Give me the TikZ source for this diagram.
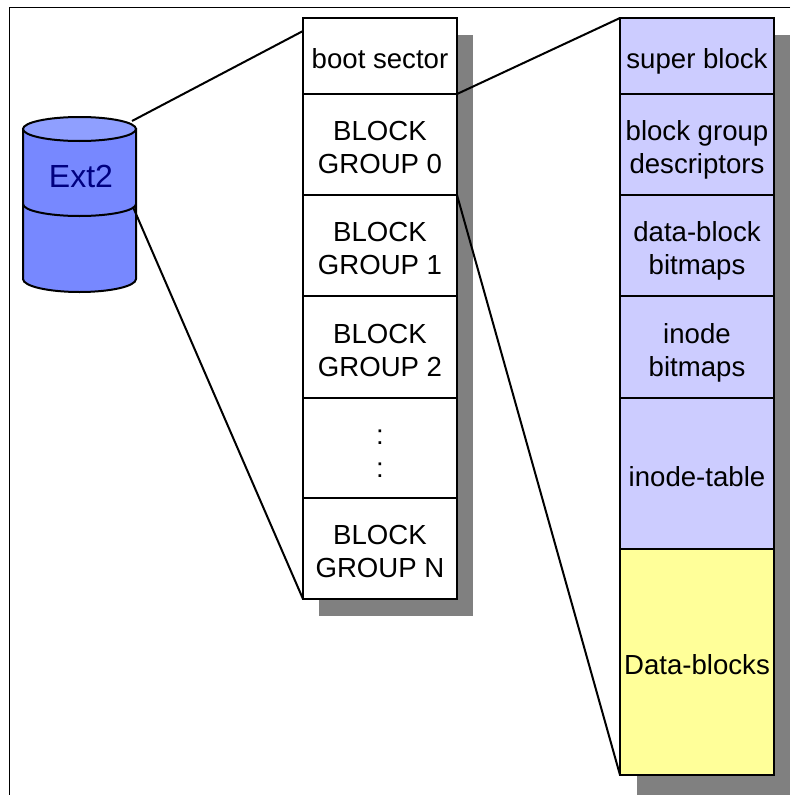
\documentclass[tikz,border=0pt]{standalone}
\usepackage{fontspec}
\setmainfont{Liberation Sans}
\definecolor{cylside}{HTML}{7788FF}
\definecolor{cyltop}{HTML}{8F9FFF}
\definecolor{lightblock}{HTML}{CCCCFF}
\definecolor{yellowblock}{HTML}{FFFF99}
\definecolor{shadowgrey}{HTML}{808080}
\definecolor{navytext}{HTML}{000080}
\newcommand{\tln}[1]{\rule[-2.5pt]{0pt}{30.5pt}\smash{#1}}
\tikzset{
  px/.style={x=1pt,y=-1pt},
  shade box/.style={fill=shadowgrey,draw=none},
  cell/.style={draw=black,line width=2pt,anchor=north west,minimum width=154pt,inner sep=0pt,outer sep=0pt,align=center,
    font=\fontsize{27.6pt}{33pt}\selectfont,text=black},
  blue cell/.style={cell,fill=lightblock},
  white cell/.style={cell,fill=white},
  yellow cell/.style={cell,fill=yellowblock},
  link/.style={draw=black,line width=2pt},
  cyl/.style={draw=black,line width=2pt},
}
\begin{document}
\begin{tikzpicture}[px]
\useasboundingbox (0,0) rectangle (790,795);
\fill[white] (0,0) rectangle (790,795);
\draw[line width=1.3pt] (790,7.5) -- (9.5,7.5) -- (9.5,795);
% shadows
\fill[shade box] (319,35) rectangle (473,616);
\fill[shade box] (637,35) rectangle (790,795);
% middle column
\node[white cell,minimum height=76pt] (boot) at (303,18) {\tln{boot sector}};
\node[white cell,minimum height=101pt] (g0) at (303,94) {\tln{BLOCK}\\\tln{GROUP 0}};
\node[white cell,minimum height=101pt] (g1) at (303,195) {\tln{BLOCK}\\\tln{GROUP 1}};
\node[white cell,minimum height=102pt] (g2) at (303,296) {\tln{BLOCK}\\\tln{GROUP 2}};
\node[white cell,minimum height=100pt] (dots) at (303,398) {\tln{:}\\\tln{:}};
\node[white cell,minimum height=101pt] (gn) at (303,498) {\tln{BLOCK}\\\tln{GROUP N}};
% right column
\node[blue cell,minimum height=76pt] (super) at (620,18) {\tln{super block}};
\node[blue cell,minimum height=101pt] (desc) at (620,94) {\tln{block group}\\\tln{descriptors}};
\node[blue cell,minimum height=101pt] (dbm) at (620,195) {\tln{data-block}\\\tln{bitmaps}};
\node[blue cell,minimum height=102pt] (ibm) at (620,296) {\tln{inode}\\\tln{bitmaps}};
\node[blue cell,minimum height=151pt] (itab) at (620,398) {\tln{inode-table}};
\node[yellow cell,minimum height=226pt] (data) at (620,549) {\tln{Data-blocks}};
% cylinder
\path[cyl,fill=cylside] (23,129) -- (23,279) arc[start angle=180,end angle=360,x radius=56.5pt,y radius=13pt] -- (136,129) -- cycle;
\draw[cyl] (23,204) arc[start angle=180,end angle=360,x radius=56.5pt,y radius=12pt];
\draw[cyl,fill=cyltop] (79.5,129) ellipse[x radius=56.5pt,y radius=12pt];
\node[text=navytext,font=\fontsize{32pt}{36pt}\selectfont,inner sep=0pt] (ext) at (81,176) {Ext2};
\coordinate (cyltopright) at (132,121);
\coordinate (cylmidright) at (133,207);
\coordinate (bootwest) at (303,31);
% connectors
\draw[link] (cyltopright) -- (bootwest);
\draw[link] (cylmidright) -- (gn.south west);
\draw[link] (boot.south east) -- (super.north west);
\draw[link] (g0.south east) -- (data.south west);
\end{tikzpicture}
\end{document}
